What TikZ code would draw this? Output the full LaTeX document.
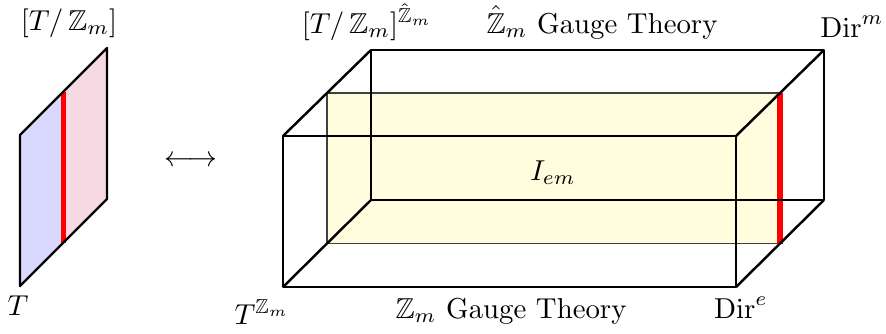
\documentclass[tikz,border=0pt]{standalone}
\usepackage{amsmath,amssymb}
\tikzset{
  edge/.style={black, line width=0.85pt, line join=round},
  redline/.style={red, line width=1.8pt},
  planeline/.style={black!75, line width=0.6pt},
  lbl/.style={anchor=base, inner sep=0pt},
}
\begin{document}
\begin{tikzpicture}[x=0.3472pt, y=-0.3472pt]
\useasboundingbox (0,0) rectangle (886,333);
% left panel
\coordinate (A) at (20,286);
\coordinate (B) at (20,135);
\coordinate (C) at (107,48);
\coordinate (D) at (107,199);
\coordinate (Mt) at (63.5,91.5);
\coordinate (Mb) at (63.5,242.5);
\fill[blue!15] (A) -- (B) -- (Mt) -- (Mb) -- cycle;
\fill[purple!15] (Mb) -- (Mt) -- (C) -- (D) -- cycle;
\draw[redline] (Mb) -- (Mt);
\draw[edge] (A) -- (B) -- (C) -- (D) -- cycle;
\node[lbl] (lq) at (69,30) {$[T/\,\mathbb{Z}_m]$};
\node[lbl] (lt) at (18,315) {$T$};
% arrow
\node[lbl] (arr) at (191,166) {$\longleftrightarrow$};
% box
\coordinate (F1) at (283,287);
\coordinate (F2) at (283,136);
\coordinate (F3) at (736,136);
\coordinate (F4) at (736,287);
\coordinate (B1) at (371,200);
\coordinate (B2) at (371,50);
\coordinate (B3) at (824,50);
\coordinate (B4) at (824,200);
\coordinate (M1) at (327,243.5);
\coordinate (M2) at (327,93);
\coordinate (M3) at (780,93);
\coordinate (M4) at (780,243.5);
\fill[yellow!13] (M1) -- (M2) -- (M3) -- (M4) -- cycle;
\draw[planeline] (M4) -- (M1) -- (M2) -- (M3);
\draw[redline] (M4) -- (M3);
\draw[edge] (F1) -- (F2) -- (F3) -- (F4) -- cycle;
\draw[edge] (B1) -- (B2) -- (B3) -- (B4) -- cycle;
\draw[edge] (F1) -- (B1);
\draw[edge] (F2) -- (B2);
\draw[edge] (F3) -- (B3);
\draw[edge] (F4) -- (B4);
\node[lbl] (iem) at (553,180) {$I_{em}$};
\node[lbl] (tq) at (367,33) {$[T/\,\mathbb{Z}_m]^{\hat{\mathbb{Z}}_m}$};
\node[lbl] (gt1) at (602,33) {$\hat{\mathbb{Z}}_m$ Gauge Theory};
\node[lbl] (dm) at (852,37) {$\mathrm{Dir}^m$};
\node[lbl] (tz) at (262,324) {$T^{\mathbb{Z}_m}$};
\node[lbl] (gt2) at (511,318) {$\mathbb{Z}_m$ Gauge Theory};
\node[lbl] (de) at (741,318) {$\mathrm{Dir}^e$};
\end{tikzpicture}
\end{document}
